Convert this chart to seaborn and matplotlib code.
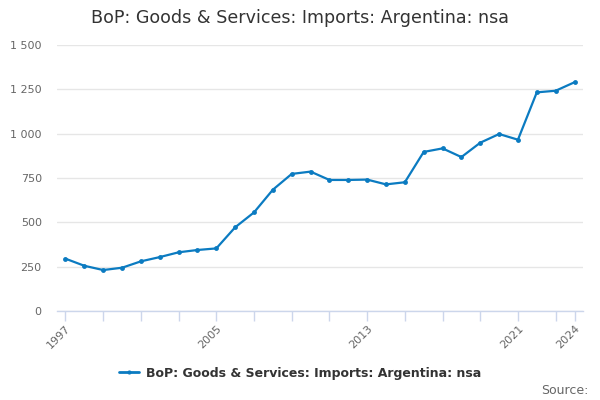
import matplotlib
matplotlib.use("Agg")
import matplotlib.pyplot as plt
import matplotlib.ticker as mticker
from matplotlib.lines import Line2D
import seaborn as sns
import pandas as pd

years = list(range(1997, 2025))
imports = [295, 255, 231, 244, 280, 304, 331, 344, 353, 472, 556, 684, 773, 786,
           739, 739, 741, 714, 726, 897, 917, 868, 949, 998, 966, 1233, 1242, 1290]
series_name = "BoP: Goods & Services: Imports: Argentina: nsa"
title_text = "BoP: Goods & Services: Imports: Argentina: nsa"
tick_years = list(range(1997, 2024, 2)) + [2024]
labelled_years = [1997, 2005, 2013, 2021, 2024]
y_ticks = [0, 250, 500, 750, 1000, 1250, 1500]

df = pd.DataFrame({"year": years, "value": imports, "series": series_name})

sns.set_theme(style="white")
plt.rcParams['font.family'] = ['DejaVu Sans']

fig = plt.figure(figsize=(6, 4), dpi=100)
ax = fig.add_axes([57/600, 1 - 311/400, (583-57)/600, (311-45)/400])

line_color = "#0b7bc1"
sns.lineplot(data=df, x="year", y="value", hue="series", palette=[line_color],
             marker="o", markersize=3.5, markeredgewidth=0, linewidth=1.6, ax=ax,
             legend=False)

ax.set_xlim(1996.55, 2024.45)
ax.set_ylim(0, 1500)
ax.set_yticks(y_ticks)
ax.yaxis.set_major_formatter(mticker.FuncFormatter(
    lambda v, p: f"{int(v):,}".replace(",", " ")))
ax.set_xticks(tick_years)
ax.set_xticklabels([str(y) if y in labelled_years else "" for y in tick_years],
                   rotation=45, ha="right", rotation_mode="anchor")

ax.grid(axis="y", color="#e6e6e6", linewidth=1)
ax.set_axisbelow(True)
for s in ["top", "right", "left"]:
    ax.spines[s].set_visible(False)
ax.spines["bottom"].set_color("#ccd6eb")
ax.spines["bottom"].set_linewidth(1)
ax.tick_params(axis="x", length=7.2, width=1, color="#ccd6eb",
               labelsize=8, pad=2, bottom=True, labelcolor="#666666")
ax.tick_params(axis="y", length=0, labelsize=8, labelcolor="#666666", pad=11)
ax.set_xlabel("")
ax.set_ylabel("")

fig.text(0.5, 1 - 18/400, title_text, ha="center", va="center",
         fontsize=12.6, color="#333333")

handle = Line2D([], [], color=line_color, linewidth=2, marker="o", markersize=3,
                markeredgewidth=0)
fig.legend([handle], [series_name], loc="center", bbox_to_anchor=(0.5, 1 - 373/400),
           frameon=False, prop={"size": 9, "weight": "bold"}, labelcolor="#333333",
           handlelength=1.6, handletextpad=0.5)

fig.text(589/600, 1 - 390/400, "Source:", ha="right", va="center",
         fontsize=9, color="#666666")

fig.savefig("out.png", dpi=100)
